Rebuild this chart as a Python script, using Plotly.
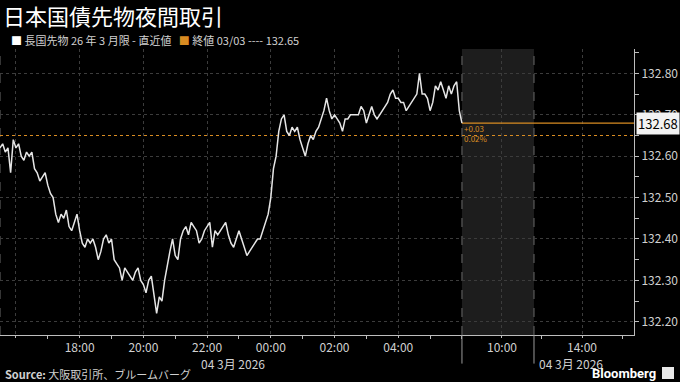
import plotly.graph_objects as go

# ---------------- data ----------------
title_text = "日本国債先物夜間取引"
series_name = "長国先物 26 年 3 月限 - 直近値"
close_label = "終値 03/03 ---- 132.65"
source_text = "<b>Source:</b> 大阪取引所、ブルームバーグ"
date_label = "04 3月 2026"

session_start = "15:30"          # night session start (03/03)
step_minutes = 5
prices = [
    132.62, 132.63, 132.61, 132.62, 132.56, 132.64, 132.62, 132.63, 132.60, 132.59,
    132.61, 132.60, 132.61, 132.57, 132.56, 132.54, 132.55, 132.56, 132.53, 132.51,
    132.50, 132.46, 132.44, 132.46, 132.45, 132.47, 132.43, 132.42, 132.44, 132.46,
    132.42, 132.39, 132.38, 132.40, 132.39, 132.40, 132.38, 132.35, 132.37, 132.40,
    132.41, 132.39, 132.40, 132.35, 132.34, 132.33, 132.30, 132.33, 132.32, 132.31,
    132.30, 132.32, 132.33, 132.30, 132.29, 132.27, 132.30, 132.31, 132.27, 132.22,
    132.26, 132.25, 132.30, 132.34, 132.37, 132.40, 132.36, 132.35, 132.40, 132.42,
    132.43, 132.41, 132.44, 132.43, 132.42, 132.39, 132.40, 132.42, 132.43, 132.44,
    132.38, 132.42, 132.41, 132.42, 132.43, 132.44, 132.41, 132.39, 132.38, 132.40,
    132.42, 132.40, 132.38, 132.36, 132.37, 132.38, 132.39, 132.40, 132.40, 132.42,
    132.44, 132.46, 132.50, 132.57, 132.60, 132.66, 132.69, 132.70, 132.66, 132.65,
    132.67, 132.66, 132.67, 132.64, 132.62, 132.60, 132.63, 132.65, 132.64, 132.66,
    132.67, 132.69, 132.71, 132.74, 132.71, 132.69, 132.70, 132.69, 132.68, 132.66,
    132.69, 132.69, 132.70, 132.70, 132.70, 132.70, 132.72, 132.71, 132.68, 132.70,
    132.72, 132.70, 132.69, 132.70, 132.71, 132.72, 132.73, 132.75, 132.76, 132.74,
    132.74, 132.73, 132.73, 132.71, 132.72, 132.73, 132.74, 132.75, 132.80, 132.75,
    132.75, 132.74, 132.71, 132.73, 132.77, 132.76, 132.78, 132.76, 132.74, 132.77,
    132.75, 132.77, 132.78, 132.71, 132.68,
]
prev_close = 132.65

night_tick_labels = ["16:00", "18:00", "20:00", "22:00", "00:00", "02:00", "04:00"]
day_tick_labels = ["10:00", "14:00"]
y_ticks = [132.20, 132.30, 132.40, 132.50, 132.60, 132.70, 132.80]

# ---------------- axis mapping (non-linear session axis) ----------------
def night_pos(hhmm):
    h, m = map(int, hhmm.split(":"))
    h0, m0 = map(int, session_start.split(":"))
    mins = (h * 60 + m) - (h0 * 60 + m0)
    if mins < 0:
        mins += 24 * 60
    return mins / 60.0

NIGHT_END = night_pos("06:00")
DAY_SCALE = 0.628


def day_pos(hhmm):
    h, m = map(int, hhmm.split(":"))
    return NIGHT_END + (h + m / 60.0 - 8.0) * DAY_SCALE

SHADE_END = day_pos("11:36")
X_MAX = 19.9

xs = [i * step_minutes / 60.0 for i in range(len(prices))]
last = prices[-1]
chg = last - prev_close
pct = chg / prev_close * 100

ORANGE = "#d98c22"
GRID = "#3c3c3c"
AX = "#bdbdbd"
TXT = "#d0d0d0"
FONT = "Noto Sans CJK JP, Noto Sans, sans-serif"

fig = go.Figure()

# previous close dotted line
fig.add_trace(go.Scatter(x=[0, X_MAX], y=[prev_close, prev_close], mode="lines",
                         line=dict(color=ORANGE, width=1.2, dash="dot"),
                         hoverinfo="skip", showlegend=False))
# last value line
fig.add_trace(go.Scatter(x=[xs[-1], X_MAX], y=[last, last], mode="lines",
                         line=dict(color=ORANGE, width=1.2),
                         hoverinfo="skip", showlegend=False))
# price line
fig.add_trace(go.Scatter(x=xs, y=prices, mode="lines",
                         line=dict(color="#e6e6e6", width=1.5),
                         showlegend=False))

# shaded region + separators
fig.add_shape(type="rect", xref="x", yref="paper", x0=NIGHT_END, x1=SHADE_END, y0=0, y1=1,
              fillcolor="#1d1d1d", line_width=0, layer="below")
for xv in [0, NIGHT_END, SHADE_END]:
    fig.add_shape(type="line", xref="x", yref="paper", x0=xv, x1=xv, y0=0, y1=1,
                  line=dict(color="#6a6a6a", width=1, dash="dash"), layer="below")
for xv in [NIGHT_END, SHADE_END]:
    fig.add_shape(type="line", xref="x", yref="paper", x0=xv, x1=xv, y0=-0.1, y1=0,
                  line=dict(color="#9a9a9a", width=1))

night_vals = [night_pos(t) for t in night_tick_labels]
day_vals = [day_pos(t) for t in day_tick_labels]
night_text = [""] + night_tick_labels[1:]

fig.update_xaxes(
    range=[0, X_MAX], tickmode="array",
    tickvals=night_vals + day_vals, ticktext=night_text + day_tick_labels,
    showgrid=True, gridcolor=GRID, griddash="dot", gridwidth=1,
    showline=True, linecolor=AX, linewidth=1,
    ticks="outside", ticklen=2, tickcolor=AX,
    tickfont=dict(family=FONT, size=12, color=TXT),
    minor=dict(tickmode="array",
               tickvals=[v + 1 for v in night_vals] + [NIGHT_END, day_pos("12:00"), day_pos("16:00")],
               ticks="outside", ticklen=3, tickcolor=AX, showgrid=False),
    zeroline=False, fixedrange=True,
)
fig.update_yaxes(
    side="right", range=[132.168, 132.859], tickmode="array",
    tickvals=y_ticks, ticktext=[f"{v:.2f}" for v in y_ticks],
    showgrid=True, gridcolor=GRID, griddash="dot", gridwidth=1,
    showline=True, linecolor=AX, linewidth=1,
    ticks="outside", ticklen=4, tickcolor=AX,
    tickfont=dict(family=FONT, size=12, color=TXT),
    minor=dict(tickmode="array", tickvals=[v + 0.05 for v in y_ticks],
               ticks="outside", ticklen=4, tickcolor=AX, showgrid=False),
    zeroline=False, fixedrange=True,
)

H = 286.0  # plot height in px
W = 634.0


def py(px):
    return (335 - px) / H


def pxx(px):
    return px / W

ann = []
ann.append(dict(text=title_text, xref="paper", yref="paper", x=pxx(1), y=py(15),
                xanchor="left", yanchor="middle", showarrow=False,
                font=dict(family=FONT, size=22, color="#ffffff")))
ann.append(dict(text=f"<span style='color:#ffffff'>■</span> {series_name}   "
                     f"<span style='color:{ORANGE}'>■</span> {close_label}",
                xref="paper", yref="paper", x=pxx(9), y=py(40),
                xanchor="left", yanchor="middle", showarrow=False,
                font=dict(family=FONT, size=11, color=TXT)))
ann.append(dict(text=f"+{chg:.2f}", xref="x", yref="y", x=NIGHT_END, y=last - 0.012,
                xanchor="left", yanchor="middle", showarrow=False,
                font=dict(family=FONT, size=8, color=ORANGE)))
ann.append(dict(text=f"{pct:.2f}%", xref="x", yref="y", x=NIGHT_END, y=prev_close - 0.0065,
                xanchor="left", yanchor="middle", showarrow=False,
                font=dict(family=FONT, size=8, color=ORANGE)))
ann.append(dict(text=f"{last:.2f}", xref="paper", yref="y", x=1, y=last,
                xanchor="left", yanchor="middle", showarrow=False, xshift=2,
                bgcolor="#f2f2f2", borderpad=1,
                font=dict(family=FONT, size=13, color="#000000")))
ann.append(dict(text=date_label, xref="x", yref="paper", x=night_pos("00:00"), y=py(363),
                xanchor="right", yanchor="middle", showarrow=False, xshift=-4,
                font=dict(family=FONT, size=12, color=TXT)))
ann.append(dict(text=date_label, xref="x", yref="paper", x=SHADE_END, y=py(363),
                xanchor="left", yanchor="middle", showarrow=False, xshift=3,
                font=dict(family=FONT, size=12, color=TXT)))
ann.append(dict(text=source_text, xref="paper", yref="paper", x=pxx(3), y=py(374),
                xanchor="left", yanchor="middle", showarrow=False,
                font=dict(family=FONT, size=11, color=TXT)))
ann.append(dict(text="<b>Bloomberg</b>", xref="paper", yref="paper", x=pxx(658), y=py(373),
                xanchor="right", yanchor="middle", showarrow=False,
                font=dict(family="Roboto, sans-serif", size=13, color="#ffffff")))

fig.add_shape(type="rect", xref="paper", yref="paper", x0=pxx(662), x1=pxx(674),
              y0=py(379), y1=py(367), fillcolor="#e8e8e8", line_width=0)

fig.update_layout(
    width=680, height=382,
    margin=dict(l=0, r=46, t=49, b=47),
    paper_bgcolor="#000000", plot_bgcolor="#000000",
    annotations=ann, showlegend=False,
    font=dict(family=FONT, color=TXT),
)

fig.write_html("out.html")
